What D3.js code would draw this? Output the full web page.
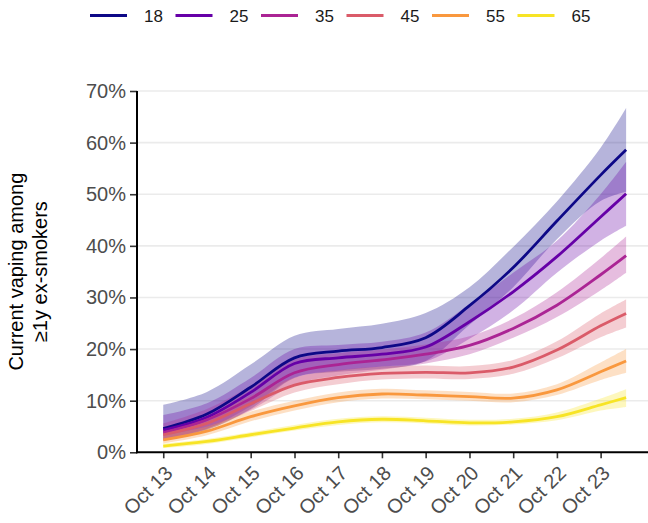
<!DOCTYPE html>
<html><head><meta charset="utf-8">
<script src="https://cdn.jsdelivr.net/npm/d3@7"></script>
<style>body{margin:0;background:#fff} svg{display:block} text{font-family:"Liberation Sans", Arial, sans-serif}</style>
</head><body><svg id="c" width="648" height="523"></svg>
<script>
const dates = ["2013-10-01","2014-10-01","2015-10-01","2016-10-01","2017-10-01","2018-10-01","2019-10-01","2020-10-01","2021-10-01","2022-10-01","2023-10-01","2024-05-01"];
const tickDates = ["2013-10-01","2014-10-01","2015-10-01","2016-10-01","2017-10-01","2018-10-01","2019-10-01","2020-10-01","2021-10-01","2022-10-01","2023-10-01"];
const tickLabels = ["Oct 13","Oct 14","Oct 15","Oct 16","Oct 17","Oct 18","Oct 19","Oct 20","Oct 21","Oct 22","Oct 23"];
const yTicks = [0,10,20,30,40,50,60,70];
const ages = ["18","25","35","45","55","65"];

const est18 = [4.6, 7.4, 12.6, 18.3, 19.6, 20.3, 22.2, 28.4, 35.8, 44.8, 53.7, 58.6];
const lo18  = [2.3, 4.3,  8.4, 14.4, 15.6, 16.2, 17.7, 24.7, 32.0, 41.3, 48.7, 50.5];
const hi18  = [9.2,11.7, 17.0, 22.6, 23.9, 24.9, 27.0, 32.0, 39.8, 48.6, 59.0, 66.7];

const est25 = [4.3, 6.8, 11.6, 17.2, 18.3, 19.0, 20.4, 25.3, 31.1, 37.9, 45.6, 50.1];
const lo25  = [2.2, 4.5,  8.9, 14.5, 15.8, 16.6, 17.6, 22.0, 27.5, 34.8, 41.0, 43.9];
const hi25  = [7.2, 9.5, 14.4, 20.0, 20.8, 21.4, 23.2, 28.7, 34.8, 41.0, 50.0, 56.3];

const est35 = [3.8, 6.3, 10.4, 15.4, 17.0, 17.9, 19.0, 20.7, 24.0, 28.5, 34.4, 38.1];
const lo35  = [2.4, 4.6,  8.2, 13.1, 14.9, 16.0, 17.2, 19.0, 22.2, 26.2, 31.4, 34.8];
const hi35  = [5.6, 8.4, 12.8, 18.0, 19.2, 19.9, 20.9, 22.5, 25.9, 31.0, 37.6, 41.8];

const est45 = [3.4, 5.6,  9.4, 13.0, 14.5, 15.3, 15.5, 15.4, 16.5, 19.8, 24.5, 26.9];
const lo45  = [2.4, 4.4,  8.0, 11.6, 13.2, 14.1, 14.3, 14.2, 15.2, 18.2, 22.3, 24.2];
const hi45  = [4.6, 6.9, 10.9, 14.5, 15.9, 16.6, 16.8, 16.7, 17.9, 21.5, 26.9, 29.6];

const est55 = [2.4, 4.1,  6.9,  9.0, 10.6, 11.3, 11.1, 10.8, 10.5, 12.1, 15.6, 17.7];
const lo55  = [1.7, 3.3,  6.0,  8.1,  9.7, 10.4, 10.3, 10.0,  9.7, 11.1, 14.0, 15.4];
const hi55  = [3.3, 5.0,  7.9, 10.0, 11.6, 12.3, 12.0, 11.7, 11.4, 13.2, 17.4, 20.0];

const est65 = [1.2, 2.1,  3.4,  4.7,  5.9,  6.4,  6.1,  5.7,  5.9,  6.9,  9.2, 10.6];
const lo65  = [0.8, 1.6,  2.9,  4.2,  5.3,  5.8,  5.6,  5.2,  5.4,  6.2,  8.1,  8.8];
const hi65  = [1.7, 2.6,  3.9,  5.3,  6.5,  7.0,  6.7,  6.3,  6.5,  7.7, 10.4, 12.2];

const palette = d3.quantize(t => d3.interpolatePlasma(t * 0.95), 6);

const seriesList = [
  {age: ages[0], est: est18, lo: lo18, hi: hi18},
  {age: ages[1], est: est25, lo: lo25, hi: hi25},
  {age: ages[2], est: est35, lo: lo35, hi: hi35},
  {age: ages[3], est: est45, lo: lo45, hi: hi45},
  {age: ages[4], est: est55, lo: lo55, hi: hi55},
  {age: ages[5], est: est65, lo: lo65, hi: hi65}
];

const parse = d3.timeParse("%Y-%m-%d");
const xDates = dates.map(parse);
const svg = d3.select("#c");

const L = 137, R = 648, T = 91, B = 452.3;
const d0 = xDates[0], d1 = xDates[xDates.length - 1];
const msYear = 365.25 * 864e5;
const x = d3.scaleTime()
  .domain([new Date(+d0 - 0.6 * msYear), new Date(+d1 + 0.5 * msYear)])
  .range([L, R]);
const y = d3.scaleLinear().domain([0, 70]).range([B, T]);

// gridlines
svg.append("g").selectAll("line").data(yTicks.filter(v => v > 0)).join("line")
  .attr("x1", L).attr("x2", R).attr("y1", d => y(d)).attr("y2", d => y(d))
  .attr("stroke", "#ebebeb").attr("stroke-width", 1.6);

const color = d => palette[ages.indexOf(d.age)];
const curve = d3.curveCatmullRom.alpha(0.5);

const area = d3.area()
  .x((v, i) => x(xDates[i]))
  .curve(curve);
const line = d3.line()
  .x((v, i) => x(xDates[i]))
  .y(v => y(v))
  .curve(curve);

svg.append("g").selectAll("path").data(seriesList).join("path")
  .attr("d", s => area.y0((v, i) => y(s.lo[i])).y1((v, i) => y(s.hi[i]))(s.est))
  .attr("fill", color).attr("fill-opacity", 0.3);

svg.append("g").selectAll("path").data(seriesList).join("path")
  .attr("d", s => line(s.est))
  .attr("fill", "none").attr("stroke", color).attr("stroke-width", 2.8);

// axes
const tDates = tickDates.map(parse);
const xAxis = svg.append("g").attr("transform", `translate(0,${B})`)
  .call(d3.axisBottom(x).tickValues(tDates).tickSize(6).tickFormat((d, i) => tickLabels[i]));
xAxis.select(".domain").remove();
xAxis.selectAll(".tick line").attr("stroke", "#333").attr("stroke-width", 1.6);
xAxis.selectAll(".tick text")
  .attr("font-size", 20).attr("fill", "#4d4d4d")
  .attr("text-anchor", "end")
  .attr("transform", "translate(10,22) rotate(-45)")
  .attr("x", 0).attr("y", 0).attr("dy", 0);

const yAxis = svg.append("g").attr("transform", `translate(${L},0)`)
  .call(d3.axisLeft(y).tickValues(yTicks).tickSize(7).tickPadding(4).tickFormat(d => d + "%"));
yAxis.select(".domain").remove();
yAxis.selectAll(".tick line").attr("stroke", "#333").attr("stroke-width", 1.6);
yAxis.selectAll(".tick text").attr("font-size", 20).attr("fill", "#4d4d4d");

// axis lines
svg.append("line").attr("x1", L).attr("x2", L).attr("y1", T).attr("y2", B + 1)
  .attr("stroke", "#000").attr("stroke-width", 2);
svg.append("line").attr("x1", L - 1).attr("x2", R).attr("y1", B).attr("y2", B)
  .attr("stroke", "#000").attr("stroke-width", 2);

// y title
const yt = svg.append("text").attr("transform", `translate(0,${(T + B) / 2}) rotate(-90)`)
  .attr("text-anchor", "middle").attr("font-size", 20).attr("fill", "#000");
yt.append("tspan").attr("x", 0).attr("y", 23).text("Current vaping among");
yt.append("tspan").attr("x", 0).attr("y", 47).text("≥1y ex-smokers");

// legend
const lg = svg.append("g").selectAll("g").data(seriesList).join("g")
  .attr("transform", (d, i) => `translate(${90 + i * 85.5},15.5)`);
lg.append("line").attr("x1", 0).attr("x2", 37).attr("y1", 0).attr("y2", 0)
  .attr("stroke", color).attr("stroke-width", 3);
lg.append("text").attr("x", 54).attr("y", 6).attr("font-size", 17).attr("fill", "#1a1a1a")
  .text(d => d.age);
</script></body></html>
